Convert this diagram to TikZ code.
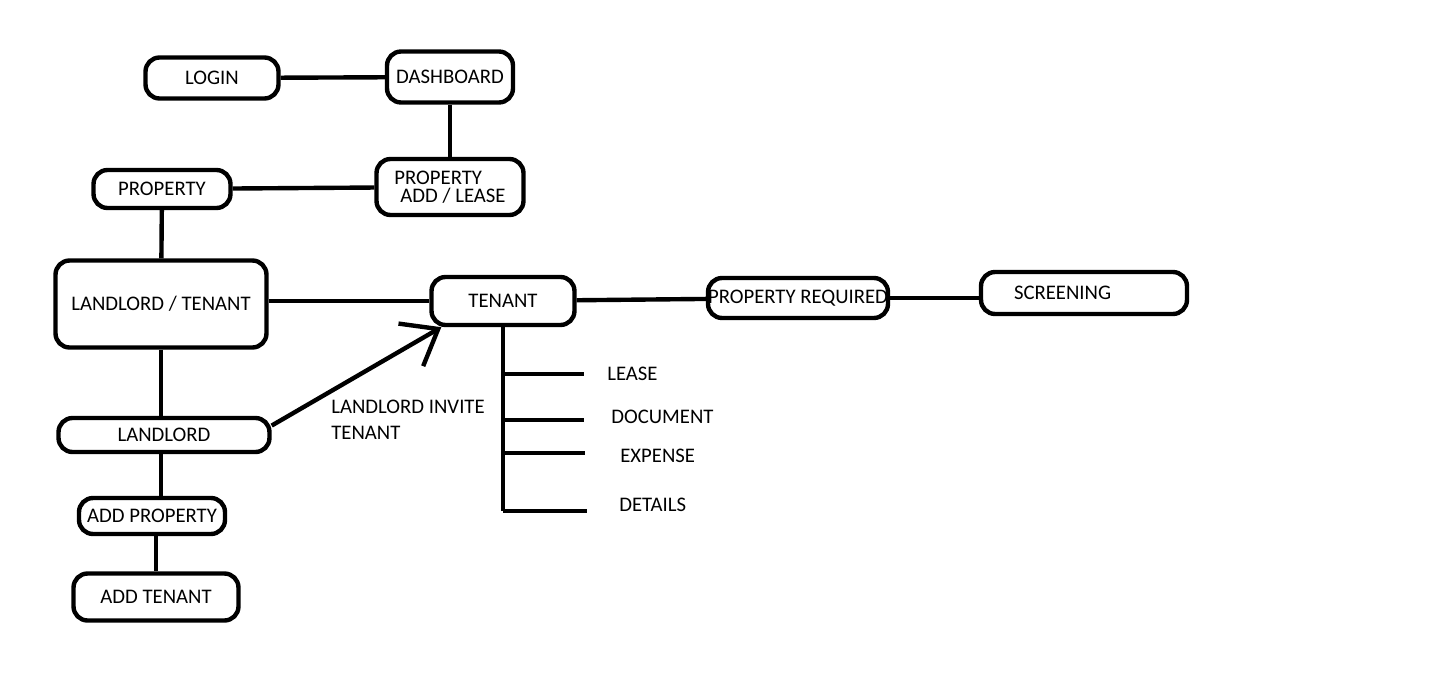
\documentclass[tikz,border=0pt]{standalone}
\usepackage{fontspec}
\setmainfont{Carlito}
\usepackage{tikz}
\usetikzlibrary{arrows.meta}
\usetikzlibrary{positioning}
\newcommand{\wline}{2.5pt}
\tikzset{
    box/.style={draw, rectangle, rounded corners=8pt, line width=\wline, inner sep=2pt},
    link/.style={line width=\wline},
    invite/.style={link, -{Straight Barb[length=18pt, width=28pt]}},
    item/.style={anchor=west, inner sep=0pt},
}
\begin{document}
\begin{tikzpicture}[x=0.02cm, y=-0.02cm, font=\fontsize{11.8}{14.5}\selectfont]
    \useasboundingbox (0,0) rectangle (1432,679);
    % upper part
    \node[box, minimum width=2.66cm, minimum height=0.82cm] (login) at (212,78) {LOGIN};
    \node[box, minimum width=2.52cm, minimum height=1.02cm] (dashboard) at (450,77) {DASHBOARD};
    \node[box, minimum width=2.94cm, minimum height=1.12cm, align=left,
          font=\fontsize{11.8}{10.4}\selectfont] (propaddlease) at (450,187) {PROPERTY\\\hspace*{0.12cm}ADD / LEASE};
    \node[box, minimum width=2.74cm, minimum height=0.76cm] (property) at (162,189) {PROPERTY};
    \node[box, minimum width=4.22cm, minimum height=1.74cm] (landlordtenant) at (161,304) {LANDLORD / TENANT};
    % tenant side
    \node[box, minimum width=2.86cm, minimum height=0.96cm] (tenant) at (503,301) {TENANT};
    \node[box, minimum width=3.6cm, minimum height=0.8cm, inner xsep=0pt] (propreq) at (798,298) {PROPERTY REQUIRED};
    \node[box, minimum width=4.12cm, minimum height=0.84cm, text width=2.8cm, inner xsep=0.66cm, align=left] (screening) at (1084,293) {SCREENING};
    % landlord side
    \node[box, minimum width=4.22cm, minimum height=0.68cm] (landlord) at (164,435) {LANDLORD};
    \node[box, minimum width=2.92cm, minimum height=0.72cm, inner xsep=1pt] (addproperty) at (152,516) {ADD PROPERTY};
    \node[box, minimum width=3.3cm, minimum height=0.94cm] (addtenant) at (156,597) {ADD TENANT};
    \node[anchor=west, align=left, inner sep=0pt] (invitelabel) at (331,420) {LANDLORD INVITE\\TENANT};

    \draw[link] (login) -- (dashboard);
    \draw[link] (dashboard) -- (propaddlease);
    \draw[link] (property) -- (propaddlease);
    \draw[link] (property) -- (landlordtenant);
    \draw[link] (landlordtenant.east |- tenant) -- (tenant.west);
    \draw[link] (landlordtenant.south) -- (landlord.north -| landlordtenant);
    \draw[link] (landlord.south -| landlordtenant) -- (addproperty.north -| landlordtenant);
    \draw[link] (addproperty.south -| addtenant) -- (addtenant.north);
    \draw[link] (tenant) -- (propreq);
    \draw[link] (propreq.east) -- (screening.west |- propreq);
    \draw[invite] (landlord.5) -- (tenant.203);

    % tenant items
    \coordinate (trunkend) at (503,511);
    \coordinate (branch1) at (503,374);
    \coordinate (branch2) at (503,420);
    \coordinate (branch3) at (503,453);
    \coordinate (branch1end) at (584,374);
    \coordinate (branch2end) at (584,420);
    \coordinate (branch3end) at (585,453);
    \coordinate (branch4end) at (587,511);
    \node[item] (lease) at (607,374) {LEASE};
    \node[item] (document) at (611,417) {DOCUMENT};
    \node[item] (expense) at (620,456) {EXPENSE};
    \node[item] (details) at (619,505) {DETAILS};
    \draw[link] (tenant.south) -- (trunkend);
    \draw[link] (branch1) -- (branch1end);
    \draw[link] (branch2) -- (branch2end);
    \draw[link] (branch3) -- (branch3end);
    \draw[link] (trunkend) -- (branch4end);
\end{tikzpicture}
\end{document}
